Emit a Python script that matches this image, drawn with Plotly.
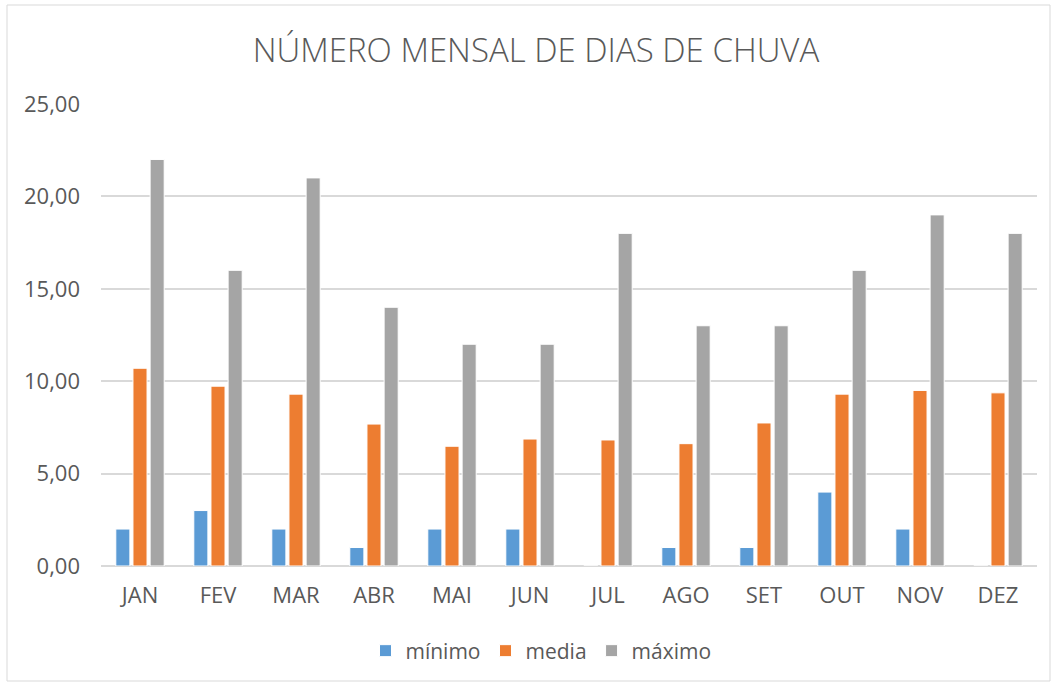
import plotly.graph_objects as go

months = ["JAN", "FEV", "MAR", "ABR", "MAI", "JUN", "JUL", "AGO", "SET", "OUT", "NOV", "DEZ"]
minimo = [2, 3, 2, 1, 2, 2, 0, 1, 1, 4, 2, 0]
media = [10.7, 9.73, 9.3, 7.68, 6.48, 6.87, 6.82, 6.62, 7.74, 9.3, 9.5, 9.37]
maximo = [22, 16, 21, 14, 12, 12, 18, 13, 13, 16, 19, 18]

font = "Open Sans, Liberation Sans, sans-serif"
fig = go.Figure()
for name, vals, col in [("mínimo", minimo, "#5B9BD5"), ("media", media, "#ED7D31"), ("máximo", maximo, "#A5A5A5")]:
    fig.add_trace(go.Bar(x=months, y=vals, name=name, marker=dict(color=col, line=dict(color="white", width=1))))

L, R, T, B = 101, 20, 104, 118
W, H = 1057, 684
pw, ph = W - L - R, H - T - B
def px(x): return (x - L) / pw
def py(y): return (H - B - y) / ph

fig.update_layout(
    width=W, height=H,
    margin=dict(l=L, r=R, t=T, b=B),
    paper_bgcolor="white", plot_bgcolor="white",
    separators=",.",
    barmode="group", bargap=0.34, bargroupgap=0.18,
    title=dict(text="NÚMERO MENSAL DE DIAS DE CHUVA", xref="container", x=536 / W, xanchor="center",
               yref="container", y=1 - 50 / H, yanchor="middle",
               font=dict(family=font, size=33, color="#595959", weight=300)),
    font=dict(family=font, color="#595959", size=22),
    yaxis=dict(range=[0, 25], dtick=5, tickformat=".2f", showgrid=True, gridcolor="#D9D9D9", gridwidth=1.5,
               zeroline=True, zerolinecolor="#D9D9D9", zerolinewidth=1.5, ticks="", ticklabelstandoff=20,
               tickfont=dict(size=22, color="#595959")),
    xaxis=dict(showgrid=False, ticks="", tickfont=dict(size=22, color="#595959"), showline=False,
               ticklabelstandoff=14),
    legend=dict(orientation="h", x=px(541), xanchor="center", y=py(651), yanchor="middle",
                font=dict(size=21, color="#595959"), itemwidth=30, traceorder="normal"),
    shapes=[dict(type="rect", xref="paper", yref="paper", x0=px(7), x1=px(1050), y0=py(681), y1=py(5),
                 line=dict(color="#D9D9D9", width=1), fillcolor="rgba(0,0,0,0)", layer="below")],
)
fig.write_html("out.html", config={"displayModeBar": False},
               post_script="document.body.style.margin='0';document.body.style.overflow='hidden';")
